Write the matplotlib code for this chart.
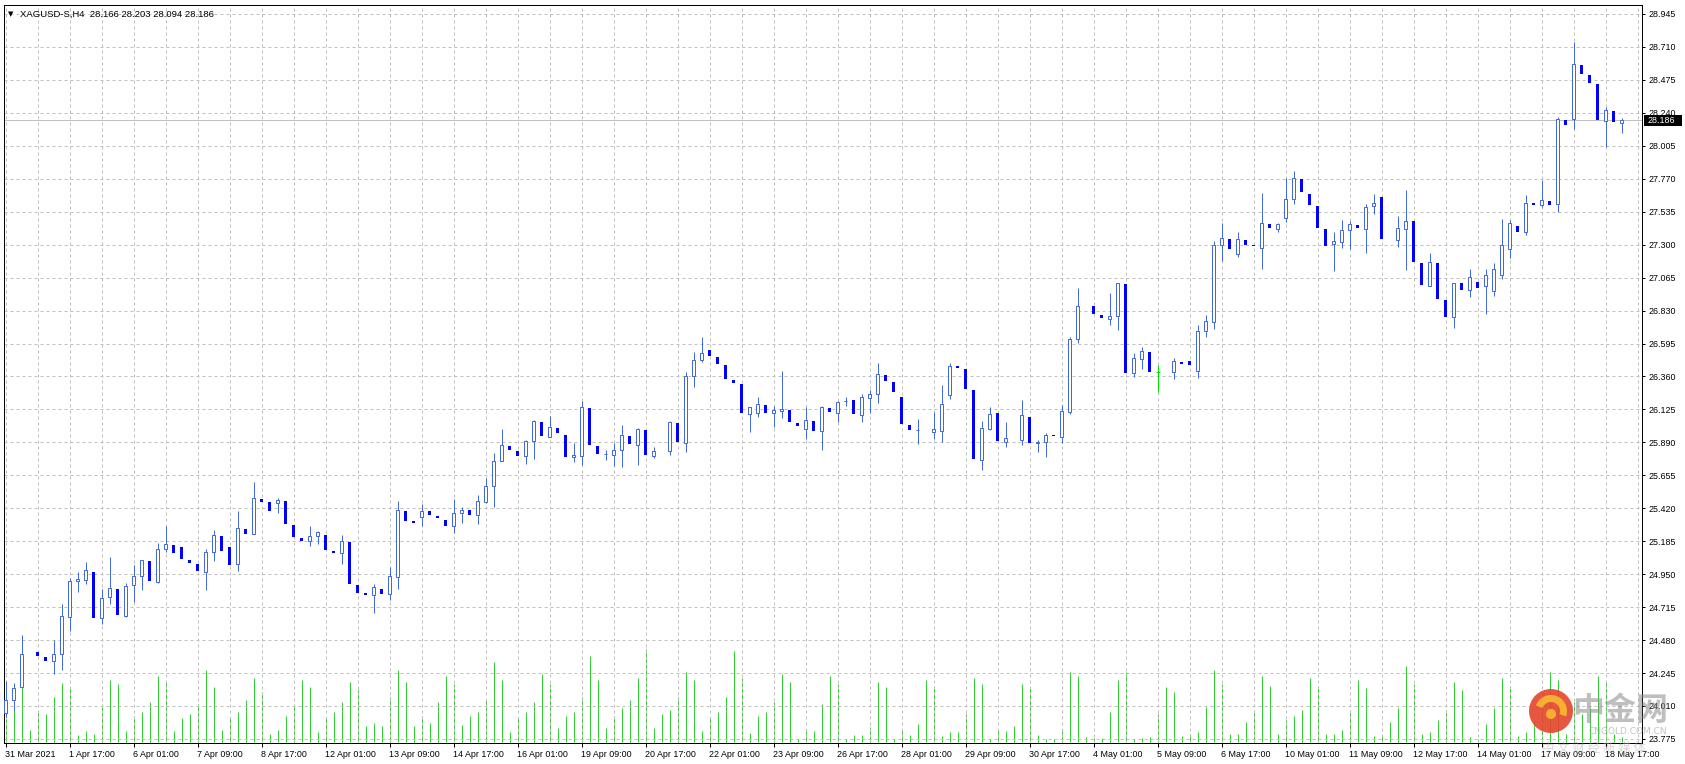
import matplotlib
matplotlib.use("Agg")
import matplotlib.pyplot as plt
import matplotlib.transforms as mtransforms
from matplotlib.patches import Rectangle, Circle, Wedge
import numpy as np

# XAGUSD-S, H4 candles (31 Mar 09:00 .. 19 May 01:00)
opens = [23.960, 24.050, 24.143, 24.400, 24.395, 24.359, 24.329, 24.378, 24.642, 24.899,
         24.906, 24.963, 24.635, 24.785, 24.844, 24.654, 24.871, 24.935, 25.044, 24.897,
         25.127, 25.156, 25.142, 25.051, 25.020, 24.968, 25.106, 25.222, 25.144, 25.020,
         25.270, 25.234, 25.484, 25.465, 25.455, 25.472, 25.301, 25.206, 25.184, 25.220,
         25.229, 25.108, 25.099, 25.180, 24.873, 24.809, 24.799, 24.844, 24.806, 24.927,
         25.401, 25.322, 25.355, 25.401, 25.365, 25.336, 25.291, 25.384, 25.407, 25.370,
         25.462, 25.577, 25.755, 25.864, 25.828, 25.790, 25.897, 26.036, 25.926, 25.990,
         25.943, 25.783, 25.795, 26.135, 25.864, 25.804, 25.802, 25.838, 25.935, 25.874,
         25.978, 25.795, 25.830, 25.831, 26.028, 25.888, 26.361, 26.475, 26.549, 26.499,
         26.442, 26.335, 26.306, 26.095, 26.102, 26.157, 26.097, 26.111, 26.123, 26.028,
         25.988, 26.043, 25.973, 26.135, 26.102, 26.184, 26.192, 26.088, 26.209, 26.233,
         26.371, 26.320, 26.214, 26.014, 25.975, 25.970, 25.966, 25.974, 26.230, 26.427,
         26.413, 26.263, 25.767, 25.988, 26.100, 25.895, 25.910, 25.909, 26.071, 25.887,
         25.890, 25.937, 25.926, 26.109, 26.625, 26.860, 26.863, 26.798, 26.772, 26.789,
         27.019, 26.382, 26.482, 26.535, 26.389, 26.390, 26.393, 26.458, 26.470, 26.400,
         26.682, 26.751, 27.295, 27.340, 27.236, 27.333, 27.291, 27.279, 27.448, 27.414,
         27.493, 27.623, 27.768, 27.664, 27.576, 27.412, 27.307, 27.322, 27.402, 27.440,
         27.414, 27.574, 27.640, 27.340, 27.336, 27.414, 27.469, 27.169, 27.008, 27.169,
         26.905, 26.782, 27.030, 26.976, 27.037, 27.007, 26.968, 27.083, 27.267, 27.435,
         27.390, 27.588, 27.581, 27.609, 27.588, 28.189, 28.199, 28.581, 28.510, 28.446,
         28.184, 28.253, 28.166]
highs = [24.191, 24.172, 24.516, 24.400, 24.395, 24.359, 24.481, 24.737, 24.923, 24.963,
         25.037, 24.963, 24.844, 25.073, 24.844, 24.885, 25.016, 25.049, 25.044, 25.170,
         25.291, 25.156, 25.142, 25.051, 25.020, 25.127, 25.265, 25.222, 25.144, 25.401,
         25.270, 25.607, 25.484, 25.465, 25.493, 25.472, 25.301, 25.206, 25.294, 25.258,
         25.229, 25.108, 25.229, 25.180, 24.873, 24.809, 24.880, 24.844, 25.001, 25.472,
         25.401, 25.322, 25.451, 25.401, 25.365, 25.336, 25.486, 25.429, 25.407, 25.512,
         25.638, 25.814, 25.985, 25.864, 25.828, 25.907, 26.050, 26.036, 26.078, 25.990,
         25.943, 25.883, 26.185, 26.135, 25.864, 25.836, 25.883, 26.014, 25.935, 25.995,
         25.978, 25.857, 25.830, 26.043, 26.028, 26.392, 26.535, 26.642, 26.549, 26.499,
         26.442, 26.335, 26.306, 26.140, 26.214, 26.157, 26.150, 26.399, 26.123, 26.028,
         26.140, 26.043, 26.147, 26.135, 26.185, 26.214, 26.192, 26.235, 26.264, 26.456,
         26.371, 26.320, 26.214, 26.014, 26.057, 25.970, 26.107, 26.299, 26.456, 26.427,
         26.413, 26.263, 26.043, 26.142, 26.100, 26.033, 25.910, 26.192, 26.071, 25.907,
         25.957, 25.937, 26.154, 26.639, 26.989, 26.860, 26.863, 26.798, 26.955, 27.024,
         27.019, 26.525, 26.568, 26.535, 26.439, 26.390, 26.493, 26.458, 26.470, 26.727,
         26.798, 27.326, 27.455, 27.340, 27.390, 27.333, 27.291, 27.669, 27.448, 27.457,
         27.776, 27.825, 27.768, 27.664, 27.576, 27.412, 27.390, 27.476, 27.469, 27.440,
         27.590, 27.661, 27.640, 27.340, 27.505, 27.690, 27.469, 27.169, 27.238, 27.169,
         26.905, 27.029, 27.030, 27.129, 27.037, 27.129, 27.167, 27.483, 27.476, 27.435,
         27.654, 27.588, 27.764, 27.609, 28.208, 28.189, 28.748, 28.581, 28.510, 28.446,
         28.282, 28.253, 28.203]
lows = [23.930, 23.981, 24.140, 24.400, 24.369, 24.333, 24.241, 24.269, 24.545, 24.825,
        24.882, 24.640, 24.597, 24.740, 24.661, 24.647, 24.752, 24.840, 24.904, 24.890,
        25.111, 25.104, 25.061, 25.032, 24.975, 24.840, 25.046, 25.118, 25.018, 24.975,
        25.239, 25.234, 25.465, 25.403, 25.384, 25.310, 25.218, 25.189, 25.153, 25.163,
        25.125, 25.104, 25.025, 24.882, 24.818, 24.804, 24.671, 24.811, 24.766, 24.847,
        25.332, 25.317, 25.296, 25.372, 25.353, 25.296, 25.246, 25.317, 25.374, 25.310,
        25.460, 25.431, 25.755, 25.838, 25.795, 25.738, 25.774, 25.938, 25.926, 25.959,
        25.788, 25.752, 25.729, 25.871, 25.807, 25.764, 25.722, 25.714, 25.878, 25.729,
        25.800, 25.781, 25.830, 25.800, 25.893, 25.824, 26.287, 26.463, 26.508, 26.451,
        26.342, 26.316, 26.100, 25.964, 26.071, 26.100, 25.997, 26.064, 26.035, 26.007,
        25.914, 25.971, 25.836, 26.107, 26.035, 26.152, 26.095, 26.035, 26.097, 26.173,
        26.330, 26.252, 26.024, 25.981, 25.881, 25.970, 25.912, 25.893, 26.202, 26.420,
        26.273, 25.774, 25.695, 25.981, 25.900, 25.859, 25.910, 25.874, 25.888, 25.824,
        25.788, 25.933, 25.883, 26.090, 26.596, 26.860, 26.808, 26.779, 26.729, 26.694,
        26.387, 26.359, 26.411, 26.394, 26.252, 26.390, 26.340, 26.452, 26.439, 26.350,
        26.640, 26.700, 27.184, 27.269, 27.212, 27.298, 27.287, 27.127, 27.419, 27.390,
        27.462, 27.593, 27.676, 27.583, 27.419, 27.291, 27.115, 27.276, 27.269, 27.421,
        27.241, 27.521, 27.340, 27.340, 27.286, 27.119, 27.176, 27.012, 27.008, 26.913,
        26.784, 26.708, 26.976, 26.930, 26.991, 26.807, 26.937, 27.052, 27.205, 27.390,
        27.370, 27.584, 27.571, 27.585, 27.535, 28.156, 28.127, 28.520, 28.455, 28.189,
        27.999, 28.175, 28.094]
closes = [24.053, 24.136, 24.378, 24.400, 24.369, 24.333, 24.378, 24.649, 24.899, 24.913,
          24.977, 24.640, 24.778, 24.849, 24.661, 24.863, 24.935, 25.049, 24.904, 25.127,
          25.163, 25.104, 25.061, 25.032, 24.975, 25.106, 25.227, 25.118, 25.018, 25.277,
          25.239, 25.491, 25.465, 25.403, 25.477, 25.310, 25.218, 25.189, 25.220, 25.248,
          25.125, 25.104, 25.184, 24.882, 24.818, 24.804, 24.856, 24.811, 24.935, 25.405,
          25.332, 25.317, 25.398, 25.372, 25.353, 25.296, 25.384, 25.405, 25.374, 25.470,
          25.577, 25.755, 25.869, 25.838, 25.795, 25.897, 26.040, 25.938, 25.997, 25.959,
          25.788, 25.798, 26.140, 25.871, 25.807, 25.806, 25.833, 25.940, 25.878, 25.985,
          25.800, 25.826, 25.830, 26.033, 25.893, 26.361, 26.475, 26.525, 26.508, 26.451,
          26.342, 26.316, 26.100, 26.140, 26.161, 26.100, 26.121, 26.128, 26.035, 26.007,
          26.050, 25.971, 26.140, 26.107, 26.176, 26.186, 26.095, 26.211, 26.233, 26.375,
          26.330, 26.252, 26.024, 25.981, 25.977, 25.970, 25.983, 26.161, 26.432, 26.420,
          26.273, 25.774, 25.990, 26.090, 25.900, 25.919, 25.910, 26.083, 25.888, 25.889,
          25.940, 25.933, 26.111, 26.625, 26.860, 26.860, 26.808, 26.779, 26.789, 27.024,
          26.387, 26.489, 26.542, 26.394, 26.389, 26.390, 26.470, 26.452, 26.439, 26.682,
          26.753, 27.295, 27.345, 27.269, 27.338, 27.298, 27.287, 27.452, 27.419, 27.448,
          27.623, 27.773, 27.676, 27.583, 27.419, 27.291, 27.326, 27.405, 27.448, 27.421,
          27.566, 27.597, 27.340, 27.340, 27.417, 27.469, 27.176, 27.012, 27.174, 26.913,
          26.784, 27.024, 26.976, 27.068, 26.991, 27.083, 27.129, 27.298, 27.451, 27.390,
          27.595, 27.584, 27.616, 27.585, 28.194, 28.156, 28.586, 28.520, 28.455, 28.189,
          28.258, 28.175, 28.186]
# tick volume per bar (one row = one trading day, 09:00 .. 05:00)
volumes = [380, 500, 690, 120, 300, 280,
           450, 590, 530, 70, 110, 80,
           350, 620, 580, 110, 260, 300,
           400, 660, 600, 110, 240, 280,
           380, 720, 550, 120, 250, 300,
           420, 640, 500, 80, 120, 260,
           360, 620, 550, 100, 240, 300,
           400, 600, 520, 160, 190, 160,
           450, 720, 600, 160, 260, 190,
           400, 660, 580, 170, 260, 300,
           420, 800, 620, 100, 250, 300,
           400, 680, 580, 140, 260, 300,
           450, 860, 620, 140, 260, 340,
           420, 640, 930, 140, 280, 320,
           450, 700, 620, 110, 240, 300,
           450, 910, 640, 90, 260, 300,
           400, 680, 600, 30, 110, 110,
           380, 660, 580, 30, 75, 75,
           150, 600, 550, 36, 125, 75,
           180, 620, 560, 60, 100, 100,
           280, 640, 580, 36, 125, 110,
           160, 580, 540, 75, 36, 36,
           110, 700, 660, 57, 46, 40,
           300, 620, 700, 30, 40, 50,
           280, 550, 500, 60, 86, 104,
           350, 720, 580, 78, 78, 200,
           300, 660, 560, 78, 220, 260,
           320, 640, 560, 78, 78, 123,
           300, 620, 540, 60, 60, 200,
           340, 760, 580, 78, 104, 220,
           320, 600, 520, 49, 30, 180,
           340, 640, 560, 60, 104, 200,
           360, 700, 620, 80, 400, 280,
           340, 660, 600, 80, 50]
time_labels = ["31 Mar 2021", "1 Apr 17:00", "6 Apr 01:00", "7 Apr 09:00", "8 Apr 17:00",
               "12 Apr 01:00", "13 Apr 09:00", "14 Apr 17:00", "16 Apr 01:00", "19 Apr 09:00",
               "20 Apr 17:00", "22 Apr 01:00", "23 Apr 09:00", "26 Apr 17:00", "28 Apr 01:00",
               "29 Apr 09:00", "30 Apr 17:00", "4 May 01:00", "5 May 09:00", "6 May 17:00",
               "10 May 01:00", "11 May 09:00", "12 May 17:00", "14 May 01:00", "17 May 09:00",
               "18 May 17:00"]
price_ticks = [23.775, 24.010, 24.245, 24.480, 24.715, 24.950, 25.185, 25.420, 25.655,
               25.890, 26.125, 26.360, 26.595, 26.830, 27.065, 27.300, 27.535, 27.770,
               28.005, 28.240, 28.475, 28.710, 28.945]
last_price = 28.186
title = "XAGUSD-S,H4  28.166 28.203 28.094 28.186"

up_col = "#4169E1"
down_col = "#0000FF"
doji_col = "#00E000"
vol_col = "#32CD32"
grid_col = "#C0C0C0"
px = 0.72  # one pixel in points at dpi 100

W, H = 1685, 764
fig = plt.figure(figsize=(W / 100, H / 100), dpi=100)
fig.patch.set_facecolor("white")
ax = fig.add_axes([4 / W, 1 - 743 / H, 1638 / W, 738 / H])
axv = ax.twinx()
ax.set_zorder(axv.get_zorder() + 1)
ax.patch.set_visible(False)

o = np.array(opens); h = np.array(highs); l = np.array(lows); c = np.array(closes)
x = np.arange(len(o))

# volumes, behind the candles
axv.vlines(x, 0, volumes, color=vol_col, lw=px)
axv.set_ylim(-8, max(volumes) / 0.126)
axv.set_yticks([])
for s in axv.spines.values():
    s.set_visible(False)

up = c > o
dn = c < o
dj = (c == o) & (h > l)
ax.vlines(x[up], l[up], h[up], color=up_col, lw=px, zorder=3)
ax.bar(x[up], c[up] - o[up], bottom=o[up], width=0.375, facecolor="white",
       edgecolor=up_col, lw=px, zorder=4)
ax.bar(x[dn], np.maximum(o[dn] - c[dn], 0.012), bottom=c[dn], width=0.40,
       color=down_col, lw=0, zorder=4)
ax.vlines(x[dj], l[dj], h[dj], color=doji_col, lw=px, zorder=3)
ax.hlines(o[dj], x[dj] - 0.25, x[dj] + 0.25, color=doji_col, lw=px, zorder=3)

ax.axhline(last_price, color=grid_col, lw=px, zorder=2)

ax.set_xlim(-0.21, 204.54)
ax.set_ylim(23.746, 29.009)
ax.set_xticks(np.arange(0, 8 * len(time_labels), 8))
ax.set_xticklabels(time_labels)
ax.set_xticks(np.arange(0, 205, 4), minor=True)
ax.set_yticks(price_ticks)
ax.set_yticklabels(["%.3f" % v for v in price_ticks])
ax.yaxis.tick_right()
ax.tick_params(axis="y", which="major", direction="out", length=2.2, width=px,
               pad=2.2, labelsize=6.4, colors="black")
ax.tick_params(axis="x", which="major", direction="out", length=2.9, width=px,
               pad=2.0, labelsize=6.4, colors="black")
ax.tick_params(axis="x", which="minor", length=0)
for lab in ax.get_xticklabels() + ax.get_yticklabels():
    lab.set_fontfamily("Liberation Sans")
shift = mtransforms.ScaledTranslation(-1 / 100, 0, fig.dpi_scale_trans)
for lab in ax.get_xticklabels():
    lab.set_horizontalalignment("left")
    lab.set_transform(lab.get_transform() + shift)

ax.grid(True, axis="x", which="both", color=grid_col, lw=px, ls=(0, (3, 3)))
ax.grid(True, axis="y", which="major", color=grid_col, lw=px, ls=(0, (3, 3)))
for s in ax.spines.values():
    s.set_color("black")
    s.set_linewidth(px)

# current price tag on the price scale
blend = mtransforms.blended_transform_factory(ax.transAxes, ax.transData)
ax.add_patch(Rectangle((1.0012, last_price - 0.039), 0.0232, 0.078, transform=blend,
                       facecolor="black", edgecolor="none", clip_on=False, zorder=10))
ax.text(1.0035, last_price, "%.3f" % last_price, transform=blend, color="white",
        fontsize=6.4, family="Liberation Sans", va="center", ha="left", zorder=11,
        clip_on=False)

# header
fig.text(8 / W, 1 - 14 / H, "\u25bc", fontsize=5, va="center", ha="left")
fig.text(20 / W, 1 - 14 / H, title, fontsize=6.8, family="Liberation Sans",
         va="center", ha="left")

# watermark in the lower right corner
wm = fig.add_axes([0, 0, 1, 1], zorder=20)
wm.set_xlim(0, W)
wm.set_ylim(H, 0)
wm.axis("off")
wm.add_patch(Circle((1551, 711), 22, facecolor="#E5442C", edgecolor="none", alpha=0.9))
wm.add_patch(Wedge((1551, 711), 16, 200, 20, width=7, facecolor="#F7B531",
                   edgecolor="none", alpha=0.95))
wm.add_patch(Circle((1551, 714), 5, facecolor="#F7B531", edgecolor="none", alpha=0.95))
wm.text(1620, 711, "中金网", fontsize=23, fontweight="bold", color="#8A8A8A", alpha=0.55,
        family="Noto Sans CJK SC", ha="center", va="center")
wm.text(1628, 732, "CNGOLD.COM.CN", fontsize=6.5, color="#9A9A9A", alpha=0.6,
        family="DejaVu Sans", ha="center", va="center")
wm.text(1594, 748, "中 文 财 经 新 媒 体", fontsize=9, color="#B0B0B0", alpha=0.5,
        family="Noto Sans CJK SC", ha="center", va="center")

fig.savefig("out.png", dpi=100, facecolor="white")
